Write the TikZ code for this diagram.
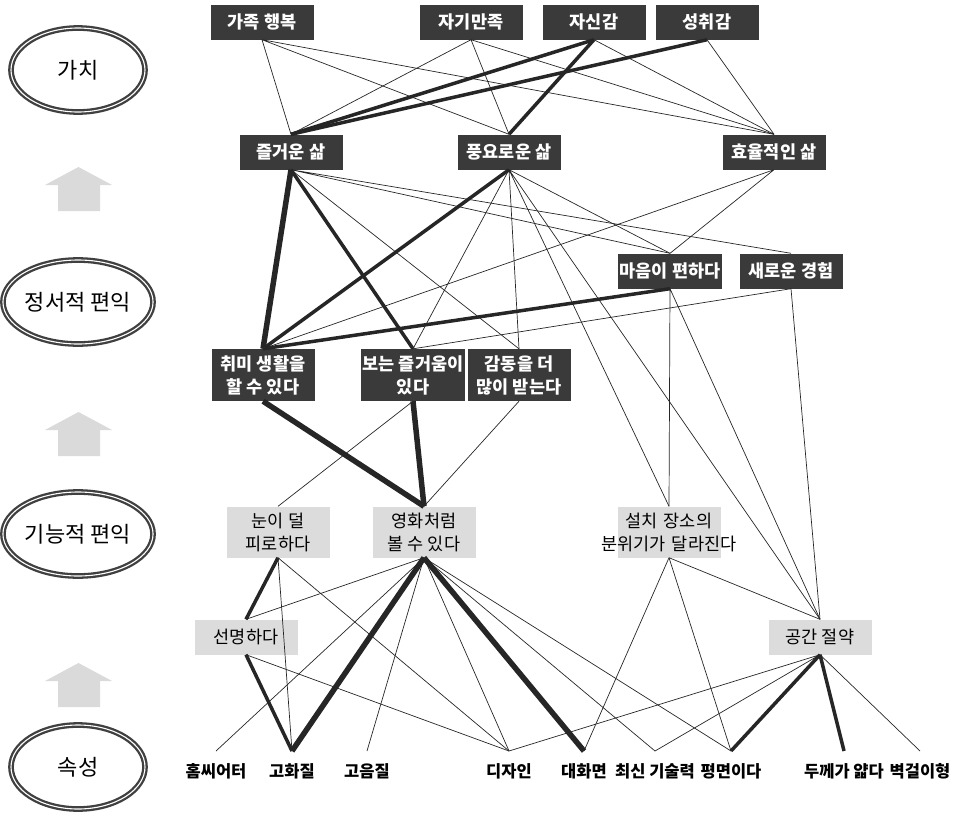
\documentclass[tikz,border=0pt]{standalone}
\usepackage{fontspec}
\setmainfont{Noto Sans CJK KR}
\definecolor{boxdark}{HTML}{3A3A3A}
\definecolor{boxlight}{HTML}{DCDCDC}
\definecolor{ringgray}{HTML}{404040}
\definecolor{arrowgray}{HTML}{DADADA}
\definecolor{linegray}{HTML}{262626}
\usetikzlibrary{shapes.geometric, positioning}

\tikzset{
  level/.style={ellipse, draw=ringgray, line width=2.3pt, double=white, double distance=1.1pt,
    minimum width=134pt, minimum height=84pt, inner sep=0pt, font=\fontsize{22}{26}\selectfont},
  darkbox/.style={fill=boxdark, text=white, minimum width=103pt, minimum height=35pt,
    inner sep=2pt, align=center, font=\bfseries\fontsize{17.5}{23}\selectfont},
  lightbox/.style={fill=boxlight, text=black, minimum width=103pt, minimum height=35pt,
    inner sep=2pt, align=center, font=\fontsize{17.5}{23}\selectfont},
  attr/.style={anchor=north, inner xsep=0pt, inner ysep=12pt, text height=14.5pt, text depth=2pt,
    font=\bfseries\fontsize{16.5}{20}\selectfont},
  link/.style={line width=0.7pt, draw=linegray},
  strong/.style={line width=3.5pt, draw=linegray},
  heavy/.style={line width=5.5pt, draw=linegray},
}

\begin{document}
\begin{tikzpicture}[x=1pt, y=-1pt]
  \useasboundingbox (0,0) rectangle (961,814);

  % levels on the left
  \node[level] (lvval) at (78,70) {가치};
  \node[level] (lvemo) at (78,302) {정서적 편익};
  \node[level] (lvfun) at (78,534) {기능적 편익};
  \node[level] (lvatt) at (78,767) {속성};
  \foreach \y in {167,412,663}
    \fill[arrowgray] (45,\y+18) -- (78.5,\y) -- (112,\y+18) -- (100,\y+18)
      -- (100,\y+44) -- (58,\y+44) -- (58,\y+18) -- cycle;

  % values
  \node[darkbox] (fam) at (262,22) {가족 행복};
  \node[darkbox] (self) at (471,22) {자기만족};
  \node[darkbox] (conf) at (594,22) {자신감};
  \node[darkbox] (achv) at (707,22) {성취감};
  \node[darkbox] (fun) at (291,152) {즐거운 삶};
  \node[darkbox] (rich) at (509,152) {풍요로운 삶};
  \node[darkbox] (eff) at (774,152) {효율적인 삶};

  % emotional benefits
  \node[darkbox] (calm) at (670,271) {마음이 편하다};
  \node[darkbox] (newexp) at (791,271) {새로운 경험};
  \node[darkbox, minimum height=52pt] (hobby) at (263,375) {취미 생활을\\할 수 있다};
  \node[darkbox, minimum height=52pt] (joy) at (413,375) {보는 즐거움이\\있다};
  \node[darkbox, minimum height=52pt] (moved) at (519,375) {감동을 더\\많이 받는다};

  % functional benefits
  \node[lightbox, minimum height=51pt] (eyes) at (278,532) {눈이 덜\\피로하다};
  \node[lightbox, minimum height=51pt] (movie) at (424,532) {영화처럼\\볼 수 있다};
  \node[lightbox, minimum height=51pt, text width=99pt] (mood) at (669,532)
    {설치 장소의\\\makebox[99pt][c]{분위기가 달라진다}};
  \node[lightbox] (sharp) at (246,637) {선명하다};
  \node[lightbox] (space) at (820,637) {공간 절약};

  % attributes
  \node[attr] (home) at (216,751) {홈씨어터};
  \node[attr] (hd) at (292,751) {고화질};
  \node[attr] (hifi) at (367,751) {고음질};
  \node[attr] (design) at (509,751) {디자인};
  \node[attr] (big) at (584,751) {대화면};
  \node[attr] (tech) at (655,751) {최신 기술력};
  \node[attr] (flat) at (731,751) {평면이다};
  \node[attr] (slim) at (844,751) {두께가 얇다};
  \node[attr] (wall) at (920,751) {벽걸이형};

  % values -> values
  \draw[link] (fam.south) -- (fun.north) (fam.south) -- (rich.north) (fam.south) -- (eff.north);
  \draw[link] (self.south) -- (fun.north) (self.south) -- (rich.north) (self.south) -- (eff.north);
  \draw[strong] (conf.south) -- (fun.north) (conf.south) -- (rich.north);
  \draw[link] (conf.south) -- (eff.north);
  \draw[strong] (achv.south) -- (fun.north);
  \draw[link] (achv.south) -- (eff.north);

  % values -> emotional
  \draw[heavy] (fun.south) -- (hobby.north);
  \draw[strong] (fun.south) -- (joy.north);
  \draw[link] (fun.south) -- (moved.north) (fun.south) -- (calm.north) (fun.south) -- (newexp.north);
  \draw[strong] (rich.south) -- (hobby.north);
  \draw[link] (rich.south) -- (joy.north) (rich.south) -- (moved.north) (rich.south) -- (calm.north)
    (rich.south) -- (mood.north) (rich.south) -- (space.north);
  \draw[link] (eff.south) -- (hobby.north) (eff.south) -- (calm.north);

  % emotional -> emotional / functional
  \draw[strong] (calm.south) -- (hobby.north);
  \draw[link] (calm.south) -- (mood.north) (calm.south) -- (space.north);
  \draw[link] (newexp.south) -- (joy.north) (newexp.south) -- (space.north);
  \draw[heavy] (hobby.south) -- (movie.north);
  \draw[heavy] (joy.south) -- (movie.north);
  \draw[link] (joy.south) -- (eyes.north) (moved.south) -- (movie.north);

  % functional -> attributes
  \draw[strong] (eyes.south) -- (sharp.north);
  \draw[link] (eyes.south) -- (hd.north) (eyes.south) -- (design.north);
  \draw[link] (sharp.north) -- (movie.south) (sharp.south) -- (design.north);
  \draw[strong] (sharp.south) -- (hd.north);
  \draw[heavy] (movie.south) -- (hd.north) (movie.south) -- (big.north);
  \draw[link] (movie.south) -- (home.north) (movie.south) -- (hifi.north) (movie.south) -- (design.north)
    (movie.south) -- (tech.north) (movie.south) -- (flat.north);
  \draw[link] (mood.south) -- (big.north) (mood.south) -- (flat.north) (mood.south) -- (space.north);
  \draw[link] (space.south) -- (design.north) (space.south) -- (tech.north) (space.south) -- (wall.north);
  \draw[strong] (space.south) -- (flat.north) (space.south) -- (slim.north);
\end{tikzpicture}
\end{document}
